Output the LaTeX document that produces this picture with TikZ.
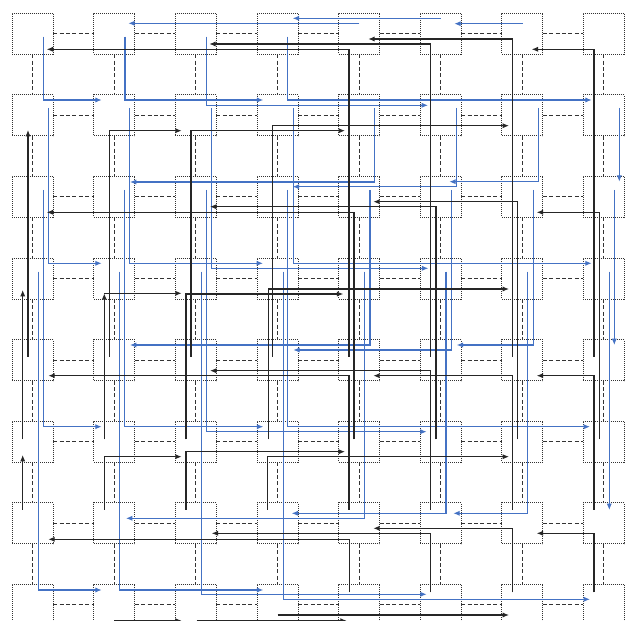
\documentclass[tikz,border=0pt]{standalone}
\usetikzlibrary{calc,arrows.meta}
\definecolor{pblue}{RGB}{68,114,196}
\newcommand\route[5]{\draw[#1] ($(n-#2.center)+(#3)$) |- ($(n-#4.center)+(#5)$);}
\newcommand\sroute[5]{\draw[#1] ($(n-#2.center)+(#3)$) -- ($(n-#4.center)+(#5)$);}
\begin{document}
\begin{tikzpicture}[x=0.5pt,y=-0.5pt,
  sq/.style={draw=black!80, dash pattern=on 0.5pt off 0.5pt, line width=0.5pt, minimum size=20.5pt, inner sep=0pt, outer sep=0pt},
  lnk/.style={draw=black!80, dash pattern=on 2pt off 1.2pt, line width=0.5pt},
  tipb/.style={-{Latex[length=3.2pt,width=2.6pt]}},
  bl/.style={draw=pblue, line width=0.55pt, tipb},
  bk/.style={draw=black!85, line width=0.55pt, tipb}]
\clip (0,0) rectangle (629,621);
\fill[white] (0,0) rectangle (629,621);
% grid of squares
\foreach \c in {0,...,7}{
  \foreach \r in {0,...,7}{
    \node[sq] (n-\c-\r) at ({32.8+81.6*\c},{33.8+81.6*\r}) {};
  }
}
% dashed links
\foreach \c [evaluate=\c as \d using int(\c+1)] in {0,...,6}{
  \foreach \r in {0,...,7}{
    \draw[lnk] (n-\c-\r.east) -- (n-\d-\r.west);
    \draw[lnk] (n-\r-\c.south) -- (n-\r-\d.north);
  }
}
% blue routes
\route{bl}{0-0}{10.5,2.9}{1-1}{-12.7,-15.4}
\route{bl}{1-0}{10.6,2.9}{3-1}{-14.3,-15.4}
\route{bl}{2-0}{10.7,2.9}{5-1}{-12.8,-10.1}
\route{bl}{3-0}{10.1,2.9}{7-1}{-12.3,-15.4}
\sroute{bl}{4-0}{0.1,-10.5}{1-0}{13.9,-10.5}
\sroute{bl}{5-0}{-0.1,-15.5}{3-0}{15.1,-15.5}
\sroute{bl}{6-0}{0.3,-10.1}{5-0}{13.5,-10.1}
\route{bl}{0-1}{15.5,-7.4}{1-3}{-12.7,-15.3}
\route{bl}{1-1}{15.3,-7.4}{3-3}{-14.6,-15.3}
\route{bl}{2-1}{15.7,-7.4}{5-3}{-12.5,-10.3}
\route{bl}{3-1}{15.7,-7.4}{7-3}{-12.3,-15.3}
\route{bl}{4-1}{15.1,-7.4}{1-2}{15.6,-15}
\route{bl}{5-1}{15.9,-7.4}{3-2}{15.1,-10.3}
\route{bl}{6-1}{15.9,-7.4}{5-2}{8.5,-15.3}
\sroute{bl}{7-1}{15.3,-7.4}{7-2}{15.3,-15.3}
\route{bl}{0-2}{10.5,-7}{1-5}{-12.7,-15.1}
\route{bl}{1-2}{10.1,-7}{3-5}{-14.3,-15.1}
\route{bl}{2-2}{10.7,-7}{5-5}{-14.1,-10.1}
\route{bl}{3-2}{10.1,-7}{7-5}{-14,-15.1}
\route{bl}{4-2}{10.8,-7}{1-4}{15.6,-15.2}
\route{bl}{5-2}{10.9,-7}{3-4}{15.7,-10.2}
\route{bl}{6-2}{10.9,-7}{5-4}{15.9,-15.2}
\sroute{bl}{7-2}{10.3,-7}{7-4}{10.3,-15.2}
\route{bl}{0-3}{5.5,-6.9}{1-7}{-12.7,-15}
\route{bl}{1-3}{4.9,-6.9}{3-7}{-14.3,-15}
\route{bl}{2-3}{5.7,-6.9}{5-7}{-14.1,-10.7}
\route{bl}{3-3}{5.7,-6.9}{7-7}{-14,-5.7}
\route{bl}{4-3}{5.1,-6.9}{1-6}{11.6,-5.1}
\route{bl}{5-3}{5.2,-6.9}{3-6}{14.1,-10.1}
\route{bl}{6-3}{5.3,-6.9}{5-6}{12.5,-10.1}
\sroute{bl}{7-3}{5.3,-6.9}{7-6}{5.3,-13.4}
% black routes
\sroute{bk}{0-4}{-4.8,-3.5}{0-1}{-4.8,14.6}
\route{bk}{1-4}{-4.9,-3.5}{2-1}{-14.3,15.3}
\route{bk}{2-4}{-5,-3.5}{4-1}{-14.2,15.3}
\route{bk}{3-4}{-5.3,-3.5}{6-1}{-13.4,10.3}
\route{bk}{4-4}{-10.2,-3.5}{0-0}{13.9,15.5}
\route{bk}{5-4}{-10.1,-3.5}{2-0}{13.3,10.2}
\route{bk}{6-4}{-10.1,-3.5}{4-0}{9.1,5.2}
\route{bk}{7-4}{-10,-3.5}{6-0}{9.3,15.5}
\sroute{bk}{0-5}{-10.1,-2.5}{0-3}{-10.1,11.4}
\sroute{bk}{1-5}{-10.1,-2.5}{1-3}{-10.1,14.7}
\sroute{bk}{1-3}{-10.1,14.7}{2-3}{-14.3,14.7}
\route{bk}{2-5}{-10,-2.5}{4-3}{-15.9,15.4}
\route{bk}{3-5}{-9.3,-2.5}{6-3}{-13.4,10.4}
\route{bk}{4-5}{-5.2,-2.5}{0-2}{13.9,15.3}
\route{bk}{5-5}{-4.8,-2.5}{2-2}{14,9.7}
\route{bk}{6-5}{-5.1,-2.5}{4-2}{14.1,4.7}
\route{bk}{7-5}{-4.7,-2.5}{6-2}{14.3,15.3}
\sroute{bk}{0-6}{-10.1,-13.4}{0-5}{-10.1,13.2}
\route{bk}{1-6}{-10.1,-13.4}{2-5}{-14.3,14.9}
\route{bk}{2-6}{-10,-13.4}{4-5}{-14.2,9.9}
\route{bk}{3-6}{-9.9,-13.4}{6-5}{-13.4,14.9}
\route{bk}{4-6}{-10.2,-13.4}{0-4}{15.5,15.5}
\route{bk}{5-6}{-10.1,-13.4}{2-4}{14,10.5}
\route{bk}{6-6}{-10.1,-13.4}{4-4}{14.1,15.5}
\route{bk}{7-6}{-10,-13.4}{6-4}{14.3,15.5}
\sroute{bk}{1-7}{-0.1,15.7}{2-7}{-14.3,15.7}
\sroute{bk}{2-7}{0.7,15.7}{4-7}{-12.5,15.7}
\sroute{bk}{3-7}{0.1,10}{6-7}{-13.4,10}
\route{bk}{4-7}{-9.9,-12.7}{0-6}{15.5,15.9}
\route{bk}{5-7}{-10.1,-12.7}{2-6}{15.7,9.9}
\route{bk}{6-7}{-10.1,-12.7}{4-6}{14.1,4.9}
\route{bk}{7-7}{-10,-12.7}{6-6}{14.3,9.9}
\end{tikzpicture}
\end{document}
